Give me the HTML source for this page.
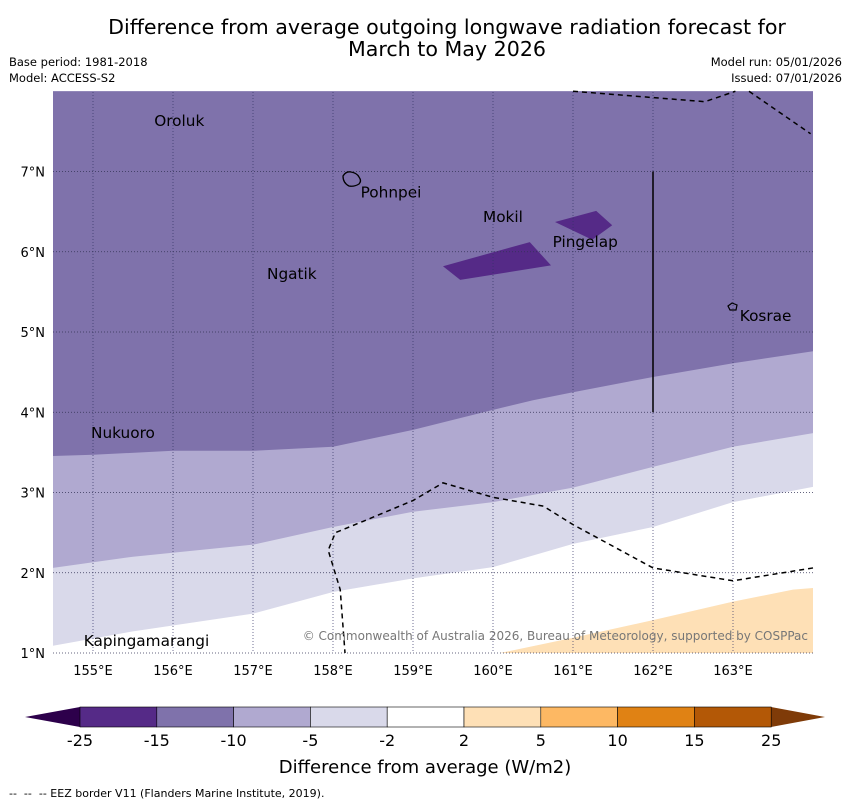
<!DOCTYPE html>
<html><head><meta charset="utf-8"><style>
body{margin:0;background:#fff;font-family:"Liberation Sans","DejaVu Sans",sans-serif}
</style></head><body>
<svg id="c" width="850" height="804" xmlns="http://www.w3.org/2000/svg" font-family="DejaVu Sans, Liberation Sans, sans-serif">
<text x="447" y="34" text-anchor="middle" font-size="20.6">Difference from average outgoing longwave radiation forecast for</text>
<text x="447" y="56" text-anchor="middle" font-size="20.6">March to May 2026</text>
<text x="9" y="66" font-size="11.5">Base period: 1981-2018</text>
<text x="9" y="82" font-size="11.5">Model: ACCESS-S2</text>
<text x="842" y="66" font-size="11.5" text-anchor="end">Model run: 05/01/2026</text>
<text x="842" y="82" font-size="11.5" text-anchor="end">Issued: 07/01/2026</text>
<g id="map"></g>
<g id="cb"></g>
<text x="425" y="773" text-anchor="middle" font-size="18">Difference from average (W/m2)</text>
<text x="9" y="797" font-size="11" xml:space="preserve" style="white-space:pre">--  --  -- EEZ border V11 (Flanders Marine Institute, 2019).</text>
</svg>
<script>
const bandALon=[154.5,155,156,157,158,159,160,160.5,161,162,163,164];
const bandALat=[3.455,3.47,3.52,3.52,3.57,3.78,4.03,4.15,4.25,4.44,4.61,4.76];
const bandBLon=[154.5,155.5,157,158,159,160,161,162,163,164];
const bandBLat=[2.06,2.20,2.35,2.57,2.76,2.88,3.06,3.32,3.57,3.74];
const bandCLon=[154.5,155.5,157,158,159,160,161,162,163,164];
const bandCLat=[1.09,1.27,1.49,1.76,1.93,2.07,2.36,2.57,2.88,3.07];
const orangeLon=[160.09,161,162,163,163.75,164];
const orangeLat=[1.0,1.19,1.41,1.64,1.79,1.81];
const patch1Lon=[159.375,160.46,160.725,159.59];
const patch1Lat=[5.82,6.12,5.83,5.65];
const patch2Lon=[160.775,161.29,161.49,161.24];
const patch2Lat=[6.37,6.51,6.33,6.15];
const eezLowLon=[164,163,162,161,160.63,160,159.375,159,158.375,158.03,157.94,158.09,158.15];
const eezLowLat=[2.06,1.9,2.06,2.6,2.83,2.94,3.12,2.9,2.64,2.5,2.28,1.79,1.0];
const eezTopLon=[161,162.65,163.03];
const eezTopLat=[8.0,7.87,8.0];
const eezTop2Lon=[163.2,163.97];
const eezTop2Lat=[8.0,7.47];
const lonTicks=[155,156,157,158,159,160,161,162,163];
const latTicks=[1,2,3,4,5,6,7];
const islands=[["Oroluk",155.74,7.63],["Pohnpei",158.32,6.74],["Mokil",159.85,6.43],["Pingelap",160.72,6.12],["Ngatik",157.15,5.72],["Kosrae",163.06,5.2],["Nukuoro",154.95,3.74],["Kapingamarangi",154.86,1.15]];
const cbLabels=["-25","-15","-10","-5","-2","2","5","10","15","25"];
const cbColors=["#552a87","#7f72ab","#b0a9d0","#d9d9ea","#ffffff","#fee0b6","#fdb863","#e08214","#b35806"];
const X=lon=>93+(lon-155)*80, Y=lat=>653-(lat-1)*80.25;
const NS="http://www.w3.org/2000/svg";
const map=document.getElementById('map');
function mk(tag,attrs,parent){const e=document.createElementNS(NS,tag);for(const k in attrs)e.setAttribute(k,attrs[k]);(parent||map).appendChild(e);return e;}
function pts(lo,la){return lo.map((v,i)=>X(v)+','+Y(la[i])).join(' ');}
const bg=mk('rect',{x:53,y:92,width:762,height:561,fill:'#ffffff'});

function band(lo,la,fill,name){const p=mk('polygon',{points:X(164)+','+Y(8)+' '+X(154.5)+','+Y(8)+' '+pts(lo,la),fill:fill});

}
band(bandCLon,bandCLat,'#d9d9ea','band-minus5-to-minus2');
band(bandBLon,bandBLat,'#b0a9d0','band-minus10-to-minus5');
band(bandALon,bandALat,'#7f72ab','band-minus15-to-minus10');
const or=mk('polygon',{points:pts(orangeLon,orangeLat)+' '+X(164)+','+Y(1),fill:'#fee0b6'});


const p1=mk('polygon',{points:pts(patch1Lon,patch1Lat),fill:'#552a87'});


const p2=mk('polygon',{points:pts(patch2Lon,patch2Lat),fill:'#552a87'});


lonTicks.forEach(l=>{const g=mk('line',{x1:X(l),x2:X(l),y1:92,y2:653,stroke:'#333366','stroke-width':0.7,'stroke-dasharray':'1,2'});

const t=mk('text',{x:X(l),y:675,'text-anchor':'middle','font-size':13});t.textContent=l+'°E';
});
latTicks.forEach(l=>{const g=mk('line',{x1:53,x2:815,y1:Y(l),y2:Y(l),stroke:'#333355','stroke-width':0.7,'stroke-dasharray':'1,2'});

const t=mk('text',{x:45,y:Y(l)+5,'text-anchor':'end','font-size':13});t.textContent=l+'°N';
});
[[eezLowLon,eezLowLat],[eezTopLon,eezTopLat],[eezTop2Lon,eezTop2Lat]].forEach(a=>{const e=mk('polyline',{points:pts(a[0],a[1]),fill:'none',stroke:'#000','stroke-width':1.5,'stroke-dasharray':'5,4'});
});
const vl=mk('line',{x1:X(162),x2:X(162),y1:Y(7),y2:Y(4),stroke:'#000','stroke-width':1.5});

const pi=mk('path',{d:'M343,176 q3,-5 8,-4 q6,1 8,5 q3,4 0,7 q-5,3 -10,2 q-6,-3 -6,-10z',fill:'none',stroke:'#000','stroke-width':1.3});

const ko=mk('path',{d:'M728,306 l4,-3 l5,2 l-1,5 l-6,0z',fill:'none',stroke:'#000','stroke-width':1.2});

islands.forEach(i=>{const t=mk('text',{x:X(i[1])+2,y:Y(i[2])+5,'font-size':15.3});t.textContent=i[0];
});
const cr=mk('text',{x:808,y:640,'text-anchor':'end','font-size':12,fill:'#777'});cr.textContent='© Commonwealth of Australia 2026, Bureau of Meteorology, supported by COSPPac';

const cb=document.getElementById('cb');
const l0=mk('polygon',{points:'80,707 80,727 25,717',fill:'#2d004b'},cb);

const h0=mk('polygon',{points:'771,707 771,727 825,717',fill:'#7f3b08'},cb);

cbColors.forEach((c,i)=>{const r=mk('rect',{x:80+i*76.8,y:707,width:76.8,height:20,fill:c,stroke:'#000','stroke-width':0.6},cb);
});
cbLabels.forEach((s,i)=>{const t=mk('text',{x:80+i*76.8,y:746,'text-anchor':'middle','font-size':16},cb);t.textContent=s;
});
</script>
</body></html>
